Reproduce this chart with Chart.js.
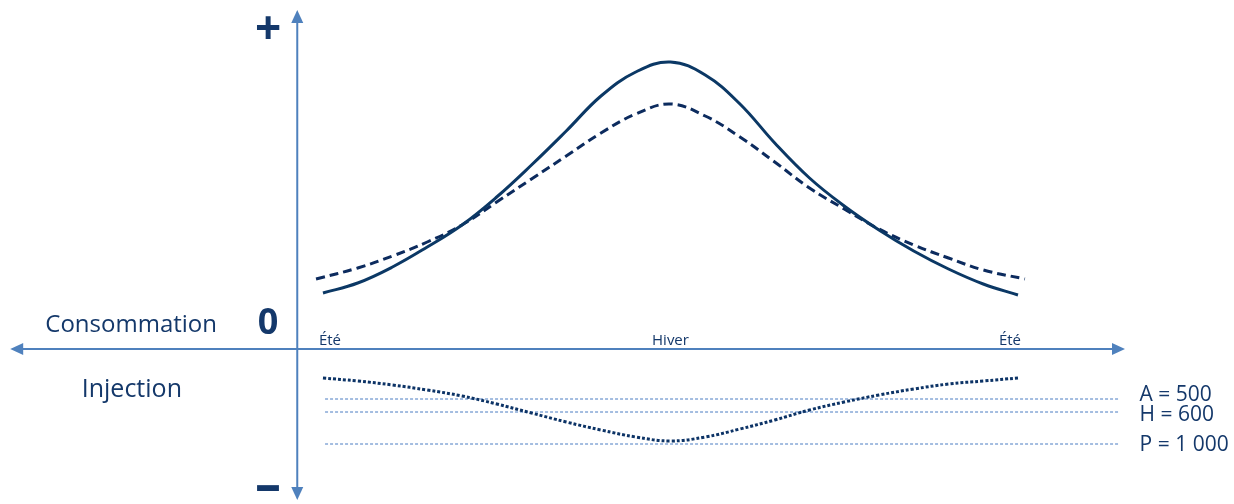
<!DOCTYPE html>
<html>
<head>
<meta charset="utf-8">
<script src="https://cdn.jsdelivr.net/npm/chart.js@4"></script>
<style>
    html, body { margin: 0; padding: 0; background: #fff; }
    #wrap { width: 1234px; height: 504px; position: relative; }
</style>
</head>
<body>
<div id="wrap"><canvas id="seasonChart"></canvas></div>
<script>
// Season axis: 0 = summer, 50 = winter, 100 = summer
const seasonLabels = ['Été', 'Hiver', 'Été'];
const seasonTicks = [0, 50, 100];

const steps = [0, 5, 10, 15, 20, 25, 30, 35, 40, 45, 50, 55, 60, 65, 70, 75, 80, 85, 90, 95, 100];
const consoSolid = [56, 66, 82, 102, 124, 152, 184, 218, 253, 277, 287, 274, 245, 206, 171, 143, 119, 98, 80, 65, 54];

const dashedSteps = [-1, 5, 10, 15, 20, 25, 30, 35, 40, 45, 50, 55, 60, 65, 70, 75, 80, 85, 90, 95, 101];
const consoDashed = [70, 81, 93, 107, 124, 147, 170, 193, 216, 235, 245, 233, 212, 187, 161, 140, 120, 104, 91, 79, 70];

const injection = [-29, -32, -36, -41, -47, -55, -64, -73, -81, -88, -92, -88, -80, -71, -61, -53, -46, -40, -35, -32, -29];

// Injection thresholds
const levelNames = ['A = 500', 'H = 600', 'P = 1 000'];
const levelValues = [-50, -63, -95];
const levelSpan = [0.3, 114.5];

const navy = '#14386a';
const axisBlue = '#4f81bd';

function toPoints(xs, ys) {
    return xs.map((x, i) => ({ x: x, y: ys[i] }));
}

const datasets = [
    {
        data: toPoints(steps, consoSolid),
        borderColor: '#0b3865',
        borderWidth: 3,
        tension: 0.4
    },
    {
        data: toPoints(dashedSteps, consoDashed),
        borderColor: '#0c2b5e',
        borderWidth: 3,
        borderDash: [9, 5],
        tension: 0.4
    },
    {
        data: toPoints(steps, injection),
        borderColor: '#0c3366',
        borderWidth: 3,
        borderDash: [3, 2],
        tension: 0.4
    }
];

levelValues.forEach(v => {
    datasets.push({
        data: toPoints(levelSpan, [v, v]),
        borderColor: '#4a7cc2',
        borderWidth: 1,
        borderDash: [3, 2]
    });
});

function arrowHead(ctx, tipX, tipY, dx, dy) {
    // dx/dy: unit direction the arrow points to
    const len = 13, half = 6;
    ctx.beginPath();
    ctx.moveTo(tipX, tipY);
    ctx.lineTo(tipX - dx * len - dy * half, tipY - dy * len + dx * half);
    ctx.lineTo(tipX - dx * len + dy * half, tipY - dy * len - dx * half);
    ctx.closePath();
    ctx.fill();
}

const axesPlugin = {
    id: 'axes',
    beforeDatasetsDraw(chart) {
        const { ctx, scales: { x, y } } = chart;
        const ox = x.getPixelForValue(-3.7);
        const oy = y.getPixelForValue(0);
        const left = x.getPixelForValue(-45), right = x.getPixelForValue(115.4);
        const top = y.getPixelForValue(339), bottom = y.getPixelForValue(-151);
        ctx.save();
        ctx.strokeStyle = axisBlue;
        ctx.fillStyle = axisBlue;
        ctx.lineWidth = 2;
        ctx.beginPath();
        ctx.moveTo(left + 8, oy);
        ctx.lineTo(right - 8, oy);
        ctx.moveTo(ox, top + 8);
        ctx.lineTo(ox, bottom - 8);
        ctx.stroke();
        arrowHead(ctx, left, oy, -1, 0);
        arrowHead(ctx, right, oy, 1, 0);
        arrowHead(ctx, ox, top, 0, -1);
        arrowHead(ctx, ox, bottom, 0, 1);
        ctx.restore();
    },
    afterDraw(chart) {
        const { ctx, scales: { x, y } } = chart;
        ctx.save();
        ctx.fillStyle = navy;
        ctx.textBaseline = 'middle';
        ctx.textAlign = 'center';

        // season labels just above the horizontal axis
        ctx.font = '15px "Open Sans"';
        seasonLabels.forEach((lab, i) => {
            let px = x.getPixelForValue(seasonTicks[i]);
            if (i === 0) px += 7;
            if (i === seasonLabels.length - 1) px -= 8;
            ctx.fillText(lab, px, y.getPixelForValue(8));
        });

        ctx.font = '24px "Open Sans"';
        ctx.fillText('Consommation', x.getPixelForValue(-27.6), y.getPixelForValue(24));
        ctx.font = '25px "Open Sans"';
        ctx.fillText('Injection', x.getPixelForValue(-27.5), y.getPixelForValue(-41));

        const signX = x.getPixelForValue(-7.9);
        ctx.font = 'bold 36px "Open Sans"';
        ctx.fillText('0', signX, y.getPixelForValue(25));
        ctx.font = 'bold 46px "Open Sans"';
        ctx.fillText('+', signX, y.getPixelForValue(318));
        ctx.font = 'bold 52px "Open Sans"';
        ctx.fillText('–', signX, y.getPixelForValue(-138));

        // threshold labels
        ctx.font = '21px "Open Sans"';
        ctx.textAlign = 'left';
        const nudge = [4, -3, -1];
        levelNames.forEach((lab, i) => {
            ctx.fillText(lab, x.getPixelForValue(117.5), y.getPixelForValue(levelValues[i] + nudge[i]));
        });
        ctx.restore();
    }
};

new Chart(document.getElementById('seasonChart'), {
    type: 'line',
    data: { datasets: datasets },
    options: {
        responsive: true,
        maintainAspectRatio: false,
        animation: false,
        layout: { padding: 0 },
        elements: { point: { radius: 0 } },
        plugins: {
            legend: { display: false },
            tooltip: { enabled: false }
        },
        scales: {
            x: { type: 'linear', min: -46.47, max: 131.08, display: false },
            y: { type: 'linear', min: -155, max: 349, display: false }
        }
    },
    plugins: [axesPlugin]
});
</script>
</body>
</html>
